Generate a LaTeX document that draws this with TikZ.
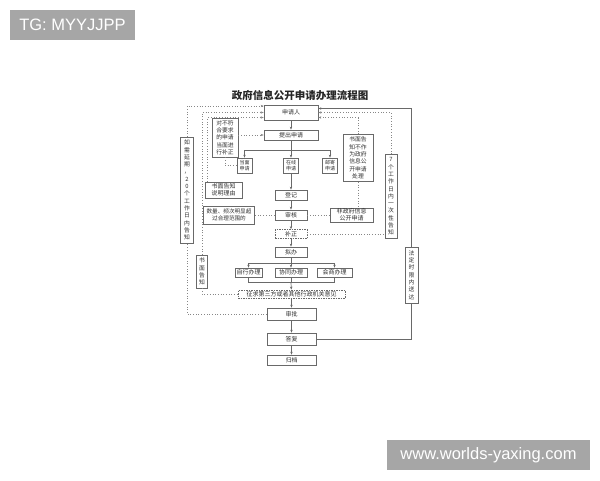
\documentclass[tikz,border=0pt]{standalone}
\usepackage{fontspec}
\newfontfamily\cjk{Noto Sans CJK SC}
\newfontfamily\wmfont{Liberation Sans}
\usetikzlibrary{calc,arrows.meta}

\begin{document}
\begin{tikzpicture}[x=1pt,y=-1pt]


\def\lineWidth{0.7}
\def\textsize{6}
\def\vlinestep{7.3}
\definecolor{boxgray}{RGB}{105,105,105}
\definecolor{textgray}{RGB}{50,50,50}
\definecolor{dotgray}{RGB}{135,135,135}
\definecolor{markgray}{RGB}{166,166,166}

\tikzset{
  box/.style={draw=boxgray, line width=\lineWidth pt, fill=white, text=textgray, inner sep=0pt, align=center, font=\cjk\fontsize{\textsize}{7}\selectfont},
  dashbox/.style={box, dash pattern=on 1.5pt off 1pt},
  vbox/.style={box, font=\cjk\fontsize{5.8}{\vlinestep}\selectfont},
  smallbox/.style={box, font=\cjk\fontsize{5}{6}\selectfont},
  link/.style={draw=boxgray, line width=\lineWidth pt},
  flow/.style={link, -{Stealth[length=3pt,width=2.4pt]}},
  dotlink/.style={draw=dotgray, line width=\lineWidth pt, dotted},
  dotflow/.style={dotlink, -{Stealth[length=3pt,width=2.4pt]}},
  wmbox/.style={fill=markgray, text=white, inner sep=0pt, minimum height=30, font=\wmfont\fontsize{16.5}{18}\selectfont}
}

\useasboundingbox (0,0) rectangle (600,480);
\fill[white] (0,0) rectangle (600,480);

%MAIN COLUMN

\node[font=\cjk\bfseries\fontsize{10.5}{12}\selectfont, text=black!85] (title) at (300,95) {政府信息公开申请办理流程图};

\node[box, minimum width=54, minimum height=15] (applicant) at (291,112.5) {申请人};
\node[box, minimum width=54, minimum height=10] (submit) at (291,135) {提出申请};
\node[smallbox, minimum width=15, minimum height=15] (inperson) at (244.5,165.5) {当面\\申请};
\node[smallbox, minimum width=15, minimum height=15] (online) at (291,165.5) {在线\\申请};
\node[smallbox, minimum width=15, minimum height=15] (post) at (330,165.5) {邮寄\\申请};
\node[box, minimum width=32, minimum height=10] (register) at (291,195) {登记};
\node[box, minimum width=32, minimum height=10] (review) at (291,215) {审核};
\node[dashbox, minimum width=32, minimum height=9] (supp) at (291,234) {补正};
\node[box, minimum width=32, minimum height=10] (draft) at (291,252) {拟办};
\node[box, minimum width=27, minimum height=9] (self) at (248.5,272.5) {自行办理};
\node[box, minimum width=32, minimum height=9] (coop) at (291,272.5) {协同办理};
\node[box, minimum width=35, minimum height=9] (consult) at (334.5,272.5) {会商办理};
\node[dashbox, minimum width=107, minimum height=8] (opinion) at (291.5,294) {征求第三方或者其他行政机关意见};
\node[box, minimum width=49, minimum height=12] (approve) at (291.5,314) {审批};
\node[box, minimum width=49, minimum height=12] (reply) at (291.5,339) {答复};
\node[box, minimum width=49, minimum height=10] (archive) at (291.5,360) {归档};

%SIDE BOXES

\node[vbox, minimum width=26, minimum height=39] (corr) at (225,137.5) {对不符\\合要求\\的申请\\当面进\\行补正};
\node[box, minimum width=37, minimum height=16] (explain) at (223.5,190) {书面告知\\说明理由};
\node[box, minimum width=51, minimum height=18, font=\cjk\fontsize{5.6}{7}\selectfont] (quantity) at (229,215) {数量、频次明显超\\过合理范围的};
\node[vbox, minimum width=13, minimum height=106] (extend) at (187,190) {如\\需\\延\\期\\，\\2\\0\\个\\工\\作\\日\\内\\告\\知};
\node[vbox, minimum width=11, minimum height=33] (writtenL) at (202,271.5) {书\\面\\告\\知};

\node[vbox, minimum width=30, minimum height=47] (nongov) at (358,158) {书面告\\知不作\\为政府\\信息公\\开申请\\处理};
\node[box, minimum width=43, minimum height=14] (nongovapp) at (351.5,215) {非政府信息\\公开申请};
\node[vbox, minimum width=12, minimum height=84] (seven) at (391,196.5) {7\\个\\工\\作\\日\\内\\一\\次\\性\\告\\知};
\node[vbox, minimum width=13, minimum height=56] (legal) at (411.5,275) {法\\定\\时\\限\\内\\送\\达};

\coordinate (split1) at (291,150);
\coordinate (split2) at (291,263);
\coordinate (merge) at (291,282);


%DRAW

\draw[flow] (applicant) -- (submit);
\draw[link] (submit) -- (split1);
\draw[link] (inperson.north |- split1) -- (post.north |- split1);
\foreach \n in {inperson,online,post}
  \draw[flow] (\n.north |- split1) -- (\n.north);
\draw[dotflow] (corr.east |- submit.west) -- (submit.west);
\draw[dotlink] (corr.south) |- (inperson.west);

\draw[flow] (online) -- (register);
\draw[flow] (register) -- (review);
\draw[flow] (review) -- (supp);
\draw[flow] (supp) -- (draft);
\draw[link] (draft) -- (split2);
\draw[link] (self.north |- split2) -- (consult.north |- split2);
\foreach \n in {self,coop,consult}
  \draw[flow] (\n.north |- split2) -- (\n.north);
\draw[link] (self.south) -- (self.south |- merge) -- (consult.south |- merge) -- (consult.south);
\draw[link] (coop) -- (merge);
\draw[flow] (merge) -- (opinion);
\draw[flow] (opinion) -- (approve);
\draw[flow] (approve) -- (reply);
\draw[flow] (reply) -- (archive);

% left loops
\draw[dotlink] (approve.west) -| (extend.south);
\draw[dotflow] (extend.north) |- ($(applicant.west)+(0,-6.5)$);
\draw[dotlink] (writtenL.south) |- (opinion.west);
\draw[dotflow] (writtenL.north) |- (applicant.west);
\draw[dotflow] ($(explain.north west)+(3,0)$) |- ($(applicant.west)+(0,5)$);
\draw[dotlink] (review.west) -- (quantity.east);

% right loops
\draw[dotlink] (review.east) -- (nongovapp.west);
\draw[dotlink] (nongov.south) -- (nongov.south |- nongovapp.north);
\draw[dotflow] (nongov.north) |- ($(applicant.east)+(0,5)$);
\draw[dotflow] (seven.north) |- (applicant.east);
\draw[dotlink] (supp.east) -- (supp.east -| seven.west);
\draw[link] (reply.east) -| (legal.south);
\draw[flow] (legal.north) |- ($(applicant.east)+(0,-4)$);

% watermarks
\node[wmbox, minimum width=125] (tag) at (72.5,25) {TG: MYYJJPP};
\node[wmbox, minimum width=203] (site) at (488.5,455) {www.worlds-yaxing.com};


\end{tikzpicture}
\end{document}
